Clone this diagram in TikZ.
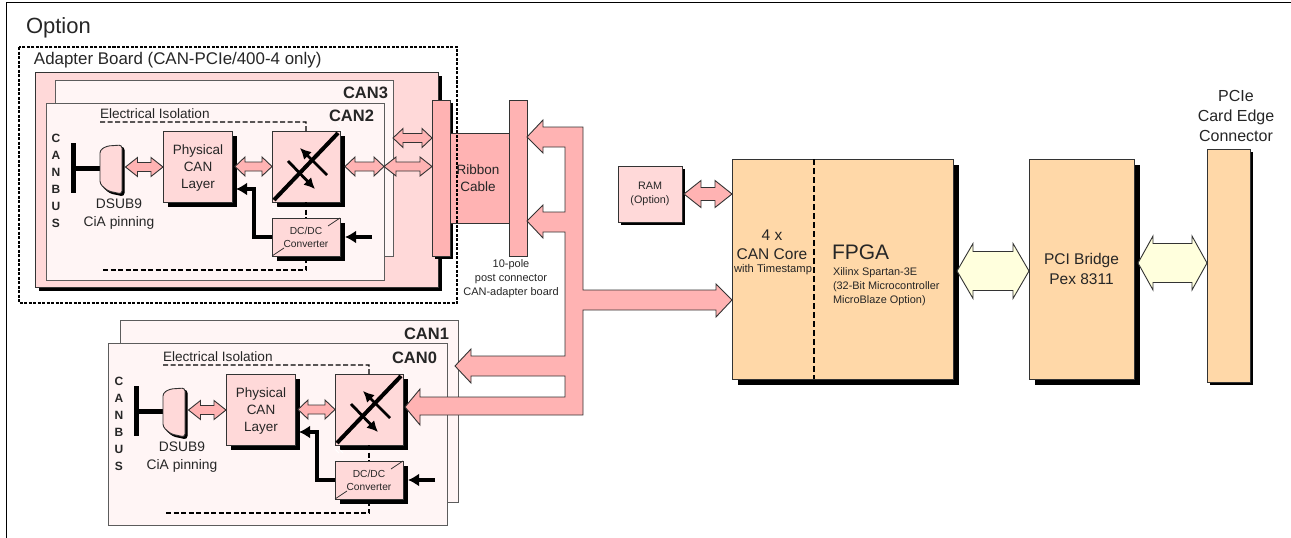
\documentclass[tikz,border=0pt]{standalone}
\usepackage{fontspec}
\setmainfont{Liberation Sans}
\usetikzlibrary{calc,shadows,arrows.meta}
\definecolor{lpink}{HTML}{FFD9D9}
\definecolor{vpink}{HTML}{FFF5F5}
\definecolor{mpink}{HTML}{FFB3B3}
\definecolor{peach}{HTML}{FFD8A8}
\definecolor{cream}{HTML}{FFFFDD}
\definecolor{edge}{HTML}{333333}
\newcommand\fs[2]{\fontsize{#1}{#2}\selectfont}
\tikzset{
  box/.style={draw=edge,line width=0.9pt,inner sep=0pt,outer sep=0pt,anchor=north west,align=center,text=black!85},
  sh/.style={drop shadow={shadow xshift=#1pt,shadow yshift=-#1pt,fill=black,opacity=1}},
  txt/.style={inner sep=0pt,outer sep=0pt,align=center,text=black!85},
  iso/.style={line width=1.2pt,dash pattern=on 5pt off 2.5pt},
  power/.style={line width=3.5pt},
  blockarrow/.style={draw=edge,line width=0.9pt,fill=mpink,line join=miter},
  canlabel/.style={txt,anchor=east,font=\bfseries\fs{16.5}{18}},
}
\newcommand\dblar[6][]{%
  \draw[blockarrow,#1] let \p1=#2,\p2=#3 in
   (\x1,\y1) -- (\x1+#4pt,\y1+#5pt) -- (\x1+#4pt,\y1+#6pt) -- (\x2-#4pt,\y1+#6pt)
   -- (\x2-#4pt,\y1+#5pt) -- (\x2,\y1) -- (\x2-#4pt,\y1-#5pt) -- (\x2-#4pt,\y1-#6pt)
   -- (\x1+#4pt,\y1-#6pt) -- (\x1+#4pt,\y1-#5pt) -- cycle;}
% one CAN channel, contents only
\newcommand\canblock[1]{%
  \begin{scope}[name prefix=#1-]
  \node[txt,anchor=west,font=\fs{13.6}{14}] (iso) at (100,114) {Electrical Isolation};
  \node[txt,font=\bfseries\fs{12}{17}] (cb) at (56,181) {C\\A\\N\\B\\U\\S};
  \node[fill=black,inner sep=0pt,outer sep=0pt,anchor=north west,minimum width=5pt,minimum height=50pt] (bar) at (71,143) {};
  \coordinate (dsubw) at (100,168);
  \draw[line width=5pt] (bar.east |- dsubw) -- (dsubw);
  \draw[fill=black,draw=black,line width=1pt,rounded corners=3pt,xshift=2pt,yshift=-2pt] (100,150) -- (107,146) -- (122,145) -- (122,194) -- (108,191) -- (100,184) -- cycle;
  \draw[fill=lpink,draw=edge,line width=0.9pt,rounded corners=3pt] (100,150) -- (107,146) -- (122,145) -- (122,194) -- (108,191) -- (100,184) -- cycle;
  \coordinate (dsube) at (125.5,167);
  \node[txt,font=\fs{13.8}{18}] (dsubt) at (119,214) {DSUB9\\CiA pinning};
  \node[box,sh=5,fill=lpink,minimum width=69pt,minimum height=71pt] (phy) at (163,131) {};
  \node[txt,font=\fs{13.5}{17}] (phyt) at (198,168.5) {Physical\\CAN\\Layer};
  \node[box,sh=5,fill=lpink,minimum width=68pt,minimum height=71pt] (sw) at (272,131) {};
  \node[box,sh=5,fill=lpink,minimum width=68pt,minimum height=38pt,font=\fs{10.2}{13}] (dc) at (272,218) {DC/DC\\Converter};
  \draw[line width=0.8pt,edge] (dc.south west) -- ++(12,-8);
  \draw[line width=0.8pt,edge] (dc.north east) -- ++(-12,8);
  % isolation line
  \draw[iso] ($(iso.south west)+(0,3)$) -- (sw.north |- 0,122) -- (sw.north);
  \draw[iso] (sw.south) -- (dc.north);
  \draw[iso] (103,270) -- (dc.south |- 0,270) -- (dc.south);
  % crossbar
  \draw[line width=4pt] ($(sw.south west)+(2,-2)$) -- ($(sw.north east)+(-2,2)$);
  \draw[white,line width=0.8pt] ($(sw.south west)+(0,4)$) -- ++(4,4);
  \draw[white,line width=0.8pt] ($(sw.south west)+(5,5)$) -- ++(3,3);
  \draw[white,line width=0.8pt] ($(sw.north east)+(0,-4)$) -- ++(-3,-3);
  \draw[white,line width=0.8pt] ($(sw.north east)+(4,2)$) -- ++(-3,-3);
  \draw[line width=2.8pt,-{Latex[length=11pt,width=11pt]}] (327,175) -- (300,148);
  \draw[line width=2.8pt,-{Latex[length=11pt,width=11pt]}] (288,161) -- (315,189);
  \dblar{(dsube)}{(phy.west)}{12}{9.5}{4.5}
  \dblar{($(phy.east)+(3,0)$)}{(sw.west)}{10}{9.5}{4.5}
  \draw[power,-{Latex[length=11pt,width=13pt]}] (dc.west) -- (254,237) -- (254,189) -- ($(phy.east |- 0,189)+(4,0)$);
  \coordinate (pwr) at (372,237);
  \draw[power,-{Latex[length=11pt,width=13pt]}] (pwr) -- ($(dc.east)+(5,0)$);
  \end{scope}}
\begin{document}
\begin{tikzpicture}[x=1pt,y=-1pt]
\useasboundingbox (0,0) rectangle (1291,538);
\coordinate (ftl) at (6,2);
\draw[line width=1pt] (6,538) -- (ftl) -- (1291,2);
\node[txt,anchor=west,font=\fs{22}{24}] (opt) at (26,28) {Option};
% adapter board
\node[box,sh=4,fill=lpink,minimum width=403pt,minimum height=215pt] (adapter) at (35,72) {};
\node[box,fill=vpink,draw=edge!80,minimum width=338pt,minimum height=176pt] (can3) at (55,80) {};
\node[box,fill=vpink,draw=edge!80,minimum width=338pt,minimum height=177pt] (can2) at (46,103) {};
\node[canlabel] (can3t) at (388,93) {CAN3};
\node[canlabel] (can2t) at (374,116) {CAN2};
\canblock{a}
\node[box,sh=3,fill=mpink,minimum width=18pt,minimum height=156pt] (conn) at (432,100) {};
\node[box,fill=mpink,minimum width=59pt,minimum height=90pt] (ribbon) at (450,133) {};
\node[box,fill=mpink,minimum width=18pt,minimum height=156pt] (post) at (509,100) {};
\dblar{($(a-sw.east)+(5,0)$)}{(can2.east |- a-sw.east)}{10}{9.5}{4.5}
\dblar{(can2.east |- a-sw.east)}{(conn.west |- a-sw.east)}{12}{9.5}{4.5}
\dblar{(can3.east |- 0,138)}{(conn.west |- 0,138)}{10}{9.5}{4.5}
\draw[line width=1.1pt,dash pattern=on 3pt off 1.5pt] (19,47) rectangle (457,303);
\node[txt,anchor=west,font=\fs{16.9}{18}] (adt) at (34,60) {Adapter Board (CAN-PCIe/400-4 only)};
\node[txt,font=\fs{13.5}{17}] (ribt) at (478,178) {Ribbon\\Cable};
\node[txt,font=\fs{11}{14}] (post-t) at (511,279) {10-pole\\post connector\\CAN-adapter board};
% lower channels
\node[box,fill=vpink,draw=edge!80,minimum width=338pt,minimum height=182pt] (can1) at (120,320) {};
\node[box,fill=vpink,draw=edge!80,minimum width=339pt,minimum height=182pt] (can0) at (108,343) {};
\node[canlabel] (can1t) at (449,334) {CAN1};
\node[canlabel] (can0t) at (437,358) {CAN0};
\begin{scope}[shift={(63,243)}]
\canblock{b}
\end{scope}
% FPGA etc
\node[box,sh=6,fill=peach,minimum width=221pt,minimum height=220pt] (fpga) at (732,159) {};
\draw[line width=1.5pt,dash pattern=on 6pt off 3pt] (814,159) -- (814,379);
\node[txt,font=\fs{15.5}{19}] (core) at (772,245) {4 x\\CAN Core};
\node[txt,font=\fs{11.2}{12}] (coresub) at (773,270) {with Timestamp};
\node[txt,anchor=west,font=\fs{21}{24}] (fpgat) at (832,252) {FPGA};
\node[txt,anchor=north west,align=left,font=\fs{10.9}{13.6}] (fpgas) at (833,268) {Xilinx Spartan-3E\\(32-Bit Microcontroller\\MicroBlaze Option)};
\node[box,sh=6,fill=peach,minimum width=105pt,minimum height=220pt,font=\fs{15.5}{20}] (pci) at (1029,159) {PCI Bridge\\Pex 8311};
\node[box,sh=3,fill=peach,minimum width=43pt,minimum height=233pt] (edgec) at (1207,149) {};
\node[txt,font=\fs{16}{20}] (edget) at (1236,116) {PCIe\\Card Edge\\Connector};
\node[box,sh=3,fill=lpink,minimum width=64pt,minimum height=56pt,font=\fs{10.8}{14}] (ram) at (618,166) {RAM\\(Option)};
% block arrows
\dblar{($(ram.east)+(2,0)$)}{(fpga.west |- ram.east)}{17}{13.5}{6.5}
\dblar[fill=cream]{(957,271)}{(pci.west |- 0,271)}{16}{27.5}{19.5}
\dblar[fill=cream]{(1138,263)}{(edgec.west |- 0,263)}{15}{27}{19.5}
% bus
\coordinate (t1) at (post.east |- 0,137);
\coordinate (t2) at (post.east |- 0,221);
\coordinate (t3) at (fpga.west |- 0,300);
\coordinate (t4) at (455,366);
\coordinate (t5) at (405,407);
\draw[blockarrow] (t1) -- (543,120) -- (543,127) -- (583,127) -- (583,290) -- (716,290) -- (716,284) -- (t3)
  -- (716,317) -- (716,310) -- (583,310) -- (583,415) -- (420,415) -- (420,425) -- (t5) -- (420,389) -- (420,397)
  -- (565,397) -- (565,376) -- (471,376) -- (471,383) -- (t4) -- (471,349) -- (471,356) -- (565,356)
  -- (565,232) -- (543,232) -- (543,238) -- (t2) -- (543,205) -- (543,212) -- (565,212) -- (565,147)
  -- (543,147) -- (543,153) -- cycle;
\end{tikzpicture}
\end{document}
